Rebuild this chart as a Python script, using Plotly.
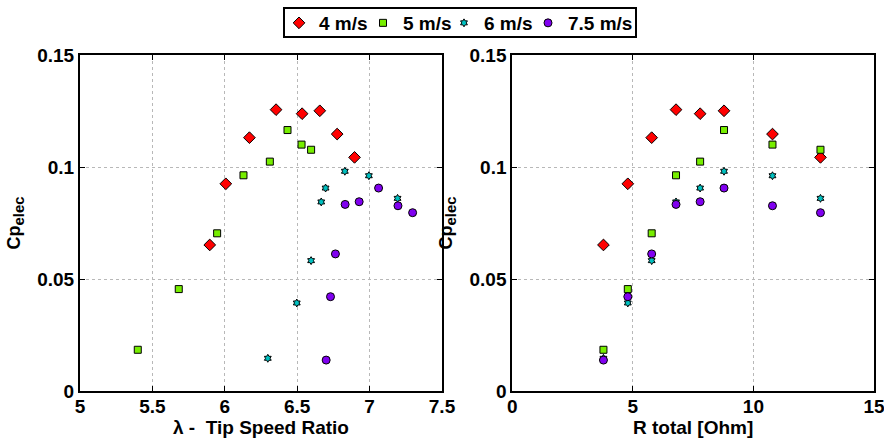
import plotly.graph_objects as go

# Shared load resistance values (Ohm)
r_total = [3.78, 4.79, 5.78, 6.79, 7.79, 8.78, 10.79, 12.78]

# Tip speed ratio per wind speed
tsr_4 = [5.896, 6.007, 6.170, 6.354, 6.534, 6.656, 6.776, 6.896]
tsr_5 = [5.399, 5.682, 5.947, 6.129, 6.311, 6.433, 6.530, 6.596]
tsr_6 = [6.297, 6.497, 6.596, 6.666, 6.696, 6.829, 6.995, 7.193]
tsr_75 = [6.700, 6.730, 6.764, 6.831, 6.928, 7.062, 7.196, 7.297]

# Electrical power coefficient per wind speed
cp_4 = [0.0652, 0.0925, 0.1131, 0.1256, 0.1238, 0.1251, 0.1147, 0.1043]
cp_5 = [0.0184, 0.0455, 0.0704, 0.0963, 0.1024, 0.1165, 0.1100, 0.1077]
cp_6 = [0.0146, 0.0393, 0.0582, 0.0844, 0.0906, 0.0981, 0.0961, 0.0860]
cp_75 = [0.0138, 0.0421, 0.0612, 0.0833, 0.0845, 0.0906, 0.0827, 0.0796]

labels = ["4 m/s", "5 m/s", "6 m/s", "7.5 m/s"]
tsr_sets = [tsr_4, tsr_5, tsr_6, tsr_75]
cp_sets = [cp_4, cp_5, cp_6, cp_75]
styles = [
    dict(symbol="diamond", color="#ff0000", size=9),
    dict(symbol="square", color="#77ee00", size=7),
    dict(symbol="hexagram", color="#00c0c0", size=6),
    dict(symbol="circle", color="#8000f0", size=8),
]
legend_ids = ["legend", "legend2", "legend3", "legend4"]

FONT = "Liberation Sans, Arial, sans-serif"
W, H = 884, 438

fig = go.Figure()
for lab, tsr, cp, st, lid in zip(labels, tsr_sets, cp_sets, styles, legend_ids):
    fig.add_trace(go.Scatter(
        x=tsr, y=cp, mode="markers", name=lab, legendgroup=lab, legend=lid,
        marker=dict(symbol=st["symbol"], color=st["color"], size=st["size"],
                    line=dict(color="black", width=1)),
        xaxis="x", yaxis="y"))
for lab, cp, st in zip(labels, cp_sets, styles):
    fig.add_trace(go.Scatter(
        x=r_total, y=cp, mode="markers", name=lab, legendgroup=lab,
        showlegend=False,
        marker=dict(symbol=st["symbol"], color=st["color"], size=st["size"],
                    line=dict(color="black", width=1)),
        xaxis="x2", yaxis="y2"))

yd = [(H - 391) / H, (H - 55) / H]

axis_common = dict(
    showline=True, linecolor="black", linewidth=2, mirror="ticks",
    ticks="inside", ticklen=5, tickcolor="black", tickwidth=1,
    showgrid=True, gridcolor="#b8b8b8", griddash="dot", gridwidth=1,
    zeroline=False, automargin=False, ticklabeloverflow="allow",
    tickfont=dict(family=FONT, size=19, color="black", weight="bold"),
)
xtitle_font = dict(family=FONT, size=19, color="black", weight="bold")
ytitle_font = dict(family=FONT, size=18, color="black", weight="bold")
ytitle = "Cp<sub><span style='font-size:15px'>elec</span></sub>"

# Legend entries placed individually inside one bordered box
legend_text_x = [319, 403, 484, 568]
legend_font = dict(family=FONT, size=19, color="black", weight="bold")
legend_layouts = {}
for lid, tx in zip(legend_ids, legend_text_x):
    legend_layouts[lid] = dict(
        x=(tx - 40) / W, xanchor="left", y=(H - 23) / H, yanchor="middle",
        orientation="h", borderwidth=0, bgcolor="rgba(0,0,0,0)",
        font=legend_font, itemwidth=30)

fig.update_layout(
    width=W, height=H,
    margin=dict(l=0, r=0, t=0, b=0),
    paper_bgcolor="white", plot_bgcolor="white",
    font=dict(family=FONT, color="black"),
    xaxis=dict(domain=[80 / W, 442 / W], range=[5, 7.5], tickvals=[5, 5.5, 6, 6.5, 7, 7.5],
               ticktext=["5", "5.5", "6", "6.5", "7", "7.5"], anchor="y",
               ticklabelstandoff=-3,
               title=dict(text="λ -  Tip Speed Ratio", standoff=3, font=xtitle_font),
               **axis_common),
    yaxis=dict(domain=yd, range=[0, 0.15], tickvals=[0, 0.05, 0.1, 0.15],
               ticktext=["0", "0.05", "0.1", "0.15"], anchor="x",
               title=dict(text=ytitle, standoff=12, font=ytitle_font),
               **axis_common),
    xaxis2=dict(domain=[512.3 / W, 874 / W], range=[0, 15], tickvals=[0, 5, 10, 15],
                ticktext=["0", "5", "10", "15"], anchor="y2",
                ticklabelstandoff=-3,
                title=dict(text="R total [Ohm]", standoff=3, font=xtitle_font),
                **axis_common),
    yaxis2=dict(domain=yd, range=[0, 0.15], tickvals=[0, 0.05, 0.1, 0.15],
                ticktext=["0", "0.05", "0.1", "0.15"], anchor="x2",
                title=dict(text=ytitle, standoff=12, font=ytitle_font),
                **axis_common),
    **legend_layouts,
    shapes=[dict(type="rect", xref="paper", yref="paper",
                 x0=284 / W, x1=636 / W, y0=(H - 37) / H, y1=(H - 8) / H,
                 line=dict(color="black", width=2), fillcolor="rgba(0,0,0,0)",
                 layer="above")],
)

fig.write_html("out.html")
